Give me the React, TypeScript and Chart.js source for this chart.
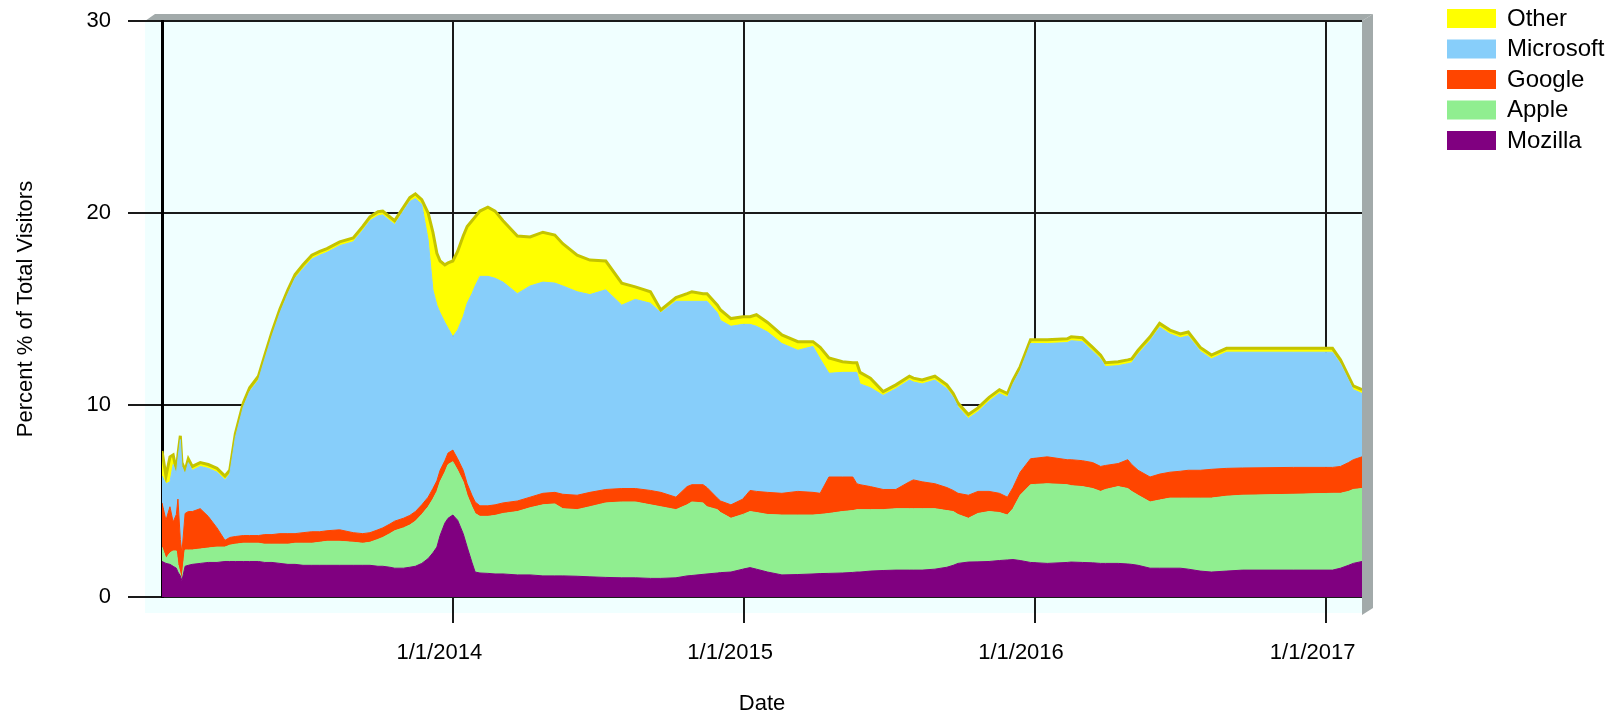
import React, { useEffect, useRef } from 'react';
import { Chart, registerables } from 'chart.js';

Chart.register(...registerables);

// Days since 1/1/2013
const dayOffsets = [0,5,10,14,18,20,23,25,29,33,38,48,58,69,79,85,92,102,110,121,129,138,148,158,167,177,188,198,207,223,240,252,261,271,277,286,292,303,311,318,326,334,340,345,349,355,359,365,371,378,383,389,393,399,409,418,428,446,462,478,493,503,521,537,557,577,594,613,626,645,659,665,679,684,697,701,714,729,738,746,760,778,798,817,826,837,854,867,872,876,889,905,921,938,943,954,970,985,993,999,1012,1024,1038,1051,1061,1068,1077,1090,1111,1136,1141,1155,1168,1178,1184,1200,1212,1217,1225,1240,1252,1265,1278,1288,1303,1317,1336,1356,1420,1469,1479,1489,1495,1506];

const mozilla = [1.85,1.75,1.7,1.6,1.5,1.3,1.1,0.85,1.6,1.65,1.7,1.75,1.8,1.8,1.85,1.85,1.85,1.85,1.85,1.85,1.8,1.8,1.75,1.7,1.7,1.65,1.65,1.65,1.65,1.65,1.65,1.65,1.65,1.6,1.6,1.55,1.5,1.5,1.55,1.6,1.75,2.0,2.3,2.6,3.2,3.85,4.1,4.27,4.0,3.3,2.6,1.8,1.3,1.25,1.23,1.2,1.2,1.15,1.15,1.1,1.1,1.1,1.08,1.05,1.02,1.0,1.0,0.97,0.97,1.0,1.1,1.12,1.18,1.2,1.25,1.27,1.3,1.45,1.53,1.45,1.3,1.15,1.17,1.2,1.22,1.23,1.25,1.28,1.3,1.3,1.35,1.38,1.4,1.4,1.4,1.4,1.45,1.55,1.65,1.75,1.82,1.83,1.85,1.9,1.93,1.95,1.9,1.8,1.75,1.8,1.82,1.8,1.78,1.75,1.75,1.75,1.72,1.7,1.65,1.5,1.5,1.5,1.5,1.45,1.35,1.3,1.35,1.4,1.4,1.4,1.5,1.65,1.75,1.85];

const apple = [0.75,0.25,0.6,0.8,0.9,0.4,0.1,0.05,0.85,0.8,0.75,0.75,0.75,0.8,0.75,0.85,0.9,0.95,0.95,0.95,0.95,0.95,1.0,1.05,1.1,1.15,1.15,1.2,1.25,1.25,1.2,1.15,1.2,1.4,1.5,1.75,1.95,2.1,2.2,2.35,2.55,2.7,2.8,2.9,2.8,2.65,2.8,2.78,2.6,2.7,2.7,2.9,3.05,2.95,2.97,3.05,3.15,3.3,3.5,3.7,3.75,3.5,3.47,3.65,3.88,3.95,3.95,3.83,3.73,3.55,3.7,3.83,3.72,3.5,3.3,3.13,2.8,2.85,2.92,2.95,3.0,3.12,3.1,3.07,3.08,3.12,3.2,3.22,3.25,3.25,3.2,3.17,3.2,3.2,3.2,3.2,3.15,2.95,2.8,2.55,2.28,2.52,2.6,2.5,2.34,2.65,3.4,4.05,4.15,4.05,3.98,3.95,3.87,3.75,3.85,4.0,3.93,3.8,3.65,3.45,3.55,3.65,3.65,3.7,3.8,3.85,3.9,3.9,3.95,4.0,3.9,3.85,3.85,3.8];

const google = [2.3,2.0,2.4,1.5,1.9,3.4,1.8,1.4,1.9,2.0,2.0,2.1,1.65,1.0,0.35,0.4,0.4,0.4,0.4,0.4,0.5,0.5,0.55,0.55,0.5,0.55,0.6,0.55,0.55,0.6,0.5,0.5,0.5,0.5,0.5,0.5,0.5,0.5,0.5,0.5,0.5,0.5,0.55,0.55,0.6,0.6,0.6,0.6,0.6,0.6,0.6,0.6,0.6,0.55,0.55,0.55,0.55,0.55,0.55,0.6,0.6,0.75,0.75,0.75,0.7,0.7,0.7,0.75,0.75,0.65,0.95,0.9,0.95,1.0,0.6,0.6,0.7,0.8,1.1,1.1,1.15,1.13,1.23,1.18,1.1,1.9,1.8,1.75,1.35,1.3,1.2,1.05,1.0,1.4,1.5,1.4,1.3,1.2,1.1,1.1,1.2,1.15,1.05,1.0,0.93,1.1,1.2,1.35,1.4,1.3,1.35,1.35,1.35,1.3,1.25,1.2,1.5,1.4,1.3,1.3,1.35,1.35,1.4,1.45,1.45,1.5,1.45,1.42,1.4,1.35,1.4,1.5,1.55,1.65];

const microsoft = [1.4,1.9,1.3,3.0,2.1,2.1,5.2,4.5,2.05,2.55,2.15,2.2,2.5,2.9,3.15,3.3,5.15,6.7,7.5,8.1,9.15,10.35,11.5,12.5,13.3,13.75,14.2,14.4,14.5,14.8,15.15,15.8,16.25,16.35,16.3,15.8,15.45,16.0,16.35,16.3,15.65,13.4,10.35,9.15,8.2,7.2,6.5,5.9,6.7,8.0,9.4,10.5,11.25,11.95,11.95,11.8,11.5,10.8,11.0,11.0,10.9,10.85,10.6,10.3,10.4,9.55,9.85,9.75,9.35,10.2,9.65,9.55,9.55,9.7,9.65,9.4,9.3,9.1,8.65,8.6,8.35,7.8,7.35,7.6,7.0,5.4,5.45,5.45,5.8,5.25,5.15,4.9,5.25,5.3,5.1,5.1,5.4,5.15,4.85,4.5,4.0,4.15,4.7,5.2,5.2,5.4,5.3,6.0,5.9,6.1,6.2,6.2,5.8,5.6,5.15,5.1,5.0,5.3,6.05,7.1,7.65,7.2,6.95,7.0,6.2,5.75,6.05,6.03,6.0,6.0,5.35,4.3,3.65,3.3];

const other = [1.3,0.4,1.3,0.5,0.2,0.2,0.2,0.2,0.2,0.2,0.2,0.2,0.2,0.2,0.2,0.2,0.2,0.2,0.2,0.2,0.2,0.2,0.2,0.2,0.2,0.2,0.2,0.2,0.2,0.2,0.2,0.2,0.2,0.22,0.2,0.2,0.2,0.2,0.2,0.25,0.25,1.4,3.0,2.7,2.7,3.0,3.4,3.95,4.1,4.2,4.0,3.8,3.6,3.4,3.6,3.5,3.2,3.0,2.55,2.6,2.5,2.2,1.9,1.8,1.5,1.15,0.65,0.6,0.15,0.2,0.4,0.5,0.4,0.4,0.4,0.55,0.4,0.4,0.4,0.6,0.5,0.45,0.45,0.25,0.6,0.8,0.55,0.5,0.5,0.6,0.5,0.2,0.2,0.2,0.2,0.2,0.2,0.2,0.2,0.2,0.2,0.2,0.2,0.2,0.2,0.2,0.2,0.2,0.2,0.2,0.2,0.2,0.2,0.2,0.2,0.2,0.2,0.2,0.2,0.2,0.2,0.2,0.2,0.2,0.2,0.2,0.2,0.2,0.2,0.2,0.2,0.2,0.2,0.2];

const seriesLabels = ['Mozilla', 'Apple', 'Google', 'Microsoft', 'Other'];
const seriesValues = [mozilla, apple, google, microsoft, other];
const seriesColors = ['#800080', '#90EE90', '#FF4500', '#87CEFA', '#FFFF00'];

const xTickDays = [365, 730, 1095, 1461];
const xTickLabels = ['1/1/2014', '1/1/2015', '1/1/2016', '1/1/2017'];
const xMax = 1506;
const yTicks = [0, 10, 20, 30];

const FONT = '"Liberation Sans", Arial, sans-serif';

const frame3d = {
  id: 'frame3d',
  beforeDraw(chart: any) {
    const { ctx, chartArea: a } = chart;
    ctx.save();
    ctx.fillStyle = '#F0FFFF';
    ctx.fillRect(a.left - 17, a.top, a.right - a.left + 17, a.bottom - a.top + 16);
    ctx.fillStyle = '#A2AAAA';
    ctx.beginPath();
    ctx.moveTo(a.left - 17, a.top);
    ctx.lineTo(a.left - 7, a.top - 7);
    ctx.lineTo(a.right + 11, a.top - 7);
    ctx.lineTo(a.right, a.top);
    ctx.closePath();
    ctx.fill();
    ctx.beginPath();
    ctx.moveTo(a.right, a.top);
    ctx.lineTo(a.right + 11, a.top - 7);
    ctx.lineTo(a.right + 11, a.bottom + 11);
    ctx.lineTo(a.right, a.bottom + 18);
    ctx.closePath();
    ctx.fill();
    ctx.restore();
  },
};

const sideLegend = {
  id: 'sideLegend',
  afterDraw(chart: any) {
    const { ctx } = chart;
    const ds = chart.data.datasets.slice().reverse();
    ctx.save();
    ctx.font = '24px ' + FONT;
    ctx.textBaseline = 'middle';
    ctx.textAlign = 'left';
    ds.forEach((d: any, i: number) => {
      const top = 9 + i * 30.5;
      ctx.fillStyle = d.backgroundColor;
      ctx.fillRect(1447, top, 49, 19);
      ctx.fillStyle = '#000';
      ctx.fillText(d.label, 1507, top + 10);
    });
    ctx.restore();
  },
};

export default function App() {
  const ref = useRef<HTMLCanvasElement>(null);
  useEffect(() => {
    if (!ref.current) return;
    const datasets = seriesLabels.map((label, i) => ({
      label,
      data: dayOffsets.map((d, j) => ({ x: d, y: seriesValues[i][j] })),
      backgroundColor: seriesColors[i],
      borderColor: i === 4 ? '#C4C400' : seriesColors[i],
      borderWidth: i === 4 ? 3 : 1,
      fill: i === 0 ? 'origin' : '-1',
      pointRadius: 0,
      tension: 0,
    }));
    const chart = new Chart(ref.current, {
      type: 'line',
      data: { datasets },
      plugins: [frame3d, sideLegend],
      options: {
        responsive: false,
        animation: false,
        events: [],
        layout: { padding: { left: 0, right: 249, top: 21, bottom: 0 } },
        plugins: { legend: { display: false }, tooltip: { enabled: false } },
        scales: {
          x: {
            type: 'linear',
            min: 0,
            max: xMax,
            afterBuildTicks: (s: any) => { s.ticks = xTickDays.map((v) => ({ value: v })); },
            afterFit: (s: any) => { s.height = 120; },
            ticks: {
              autoSkip: false,
              maxRotation: 0,
              padding: 17,
              labelOffset: -13.5,
              color: '#000',
              font: { size: 22, family: FONT },
              callback: (v: any) => xTickLabels[xTickDays.indexOf(Number(v))] ?? '',
            },
            grid: { color: '#1a1a1a', lineWidth: 2, tickLength: 26 },
            border: { display: false },
            title: { display: true, text: 'Date', color: '#000', font: { size: 22, family: FONT }, padding: { top: 0, bottom: 0 } },
          },
          y: {
            stacked: true,
            min: 0,
            max: 30,
            afterBuildTicks: (s: any) => { s.ticks = yTicks.map((v) => ({ value: v })); },
            afterFit: (s: any) => { s.width = 162; s.paddingTop = 0; s.paddingBottom = 0; },
            ticks: { padding: 17, color: '#000', font: { size: 22, family: FONT } },
            grid: { color: '#1a1a1a', lineWidth: 2, tickLength: 34 },
            border: { display: true, color: '#000', width: 3 },
            title: { display: true, text: 'Percent % of Total Visitors', color: '#000', font: { size: 22, family: FONT }, padding: { top: 13, bottom: 0 } },
          },
        },
      },
    });
    return () => chart.destroy();
  }, []);
  return (
    <div style={{ position: 'absolute', left: 0, top: 0, width: 1611, height: 717, background: '#fff' }}>
      <canvas ref={ref} width={1611} height={717} style={{ width: 1611, height: 717 }} />
    </div>
  );
}
